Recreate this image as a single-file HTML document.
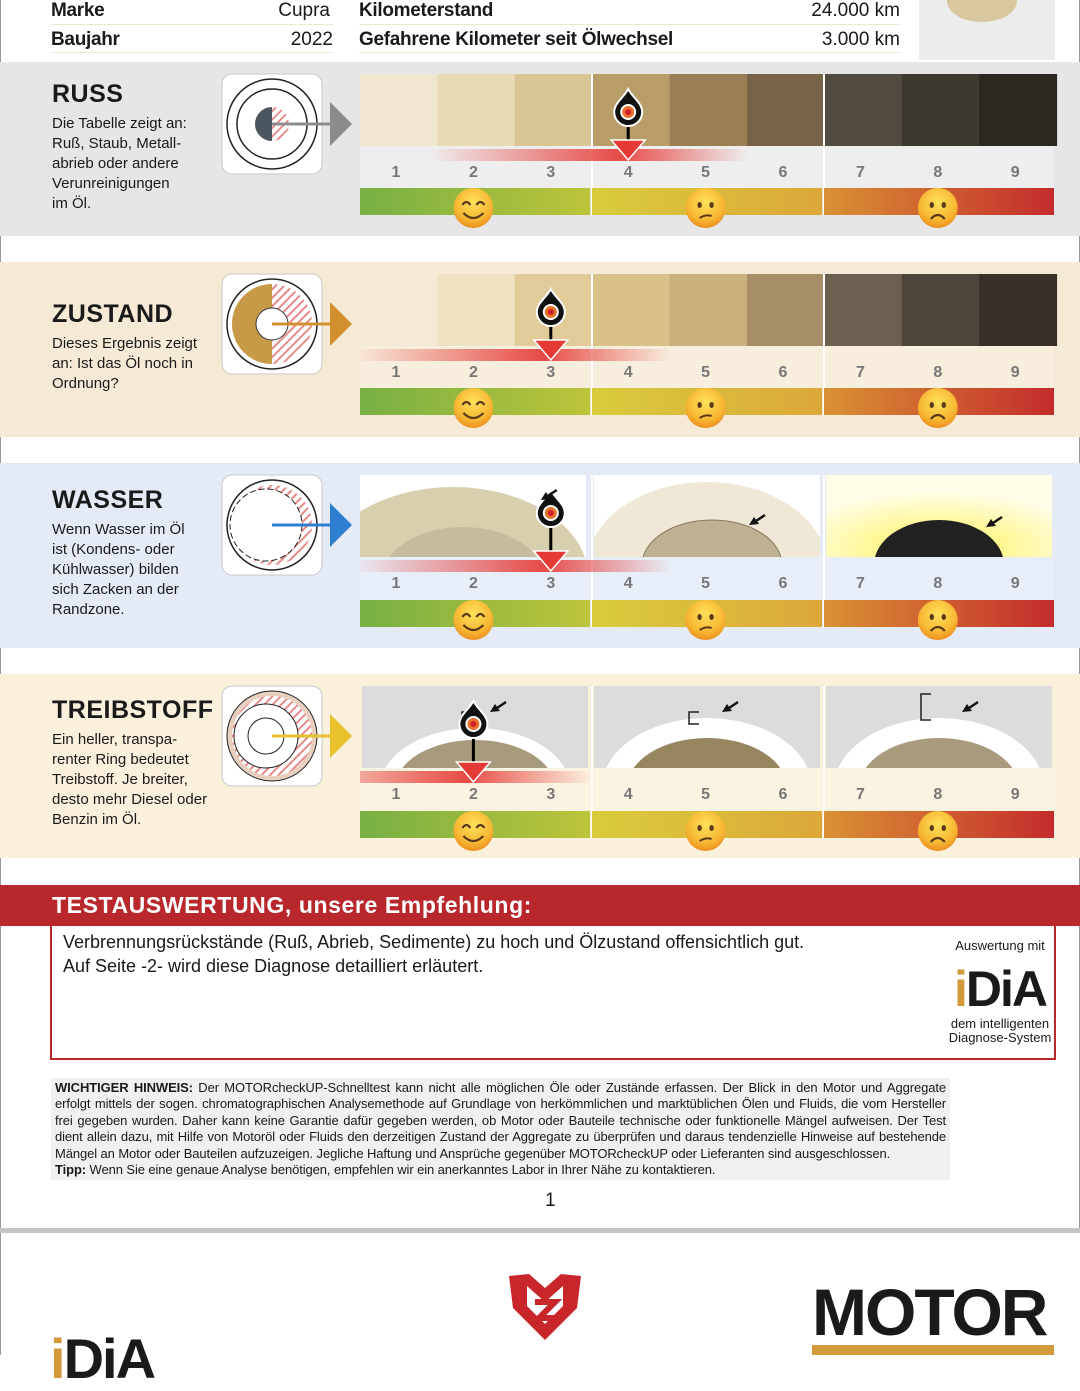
<!DOCTYPE html>
<html><head><meta charset="utf-8">
<style>
body{margin:0;width:1080px;height:1355px;position:relative;background:#fff;font-family:"Liberation Sans",sans-serif;overflow:hidden;color:#1a1a1a}
.a{position:absolute}
.hd{font-size:19px;font-weight:bold;letter-spacing:-0.3px}
.hv{font-size:19px}
.ttl{font-size:25px;font-weight:bold;letter-spacing:0.5px}
.desc{font-size:15px;line-height:20px}
</style></head><body>
<div class="a" style="left:0;top:0;width:1px;height:1355px;background:#999"></div>
<div class="a" style="right:0;top:0;width:1px;height:1230px;background:#999"></div>
<!-- header -->
<div class="a hd" style="left:51px;top:0">Marke</div>
<div class="a hv" style="left:240px;width:90px;text-align:right;top:0">Cupra</div>
<div class="a hd" style="left:51px;top:29px">Baujahr</div>
<div class="a hv" style="left:240px;width:93px;text-align:right;top:29px">2022</div>
<div class="a hd" style="left:359px;top:0">Kilometerstand</div>
<div class="a hv" style="left:760px;width:140px;text-align:right;top:0">24.000 km</div>
<div class="a hd" style="left:359px;top:29px">Gefahrene Kilometer seit Ölwechsel</div>
<div class="a hv" style="left:760px;width:140px;text-align:right;top:29px">3.000 km</div>
<div class="a" style="left:51px;top:24px;width:282px;height:1px;background:#eee6d0"></div>
<div class="a" style="left:51px;top:52px;width:282px;height:1px;background:#eee6d0"></div>
<div class="a" style="left:359px;top:24px;width:541px;height:1px;background:#eee6d0"></div>
<div class="a" style="left:359px;top:52px;width:541px;height:1px;background:#eee6d0"></div>
<div class="a" style="left:919px;top:0;width:136px;height:60px;background:#ececec"><div class="a" style="left:28px;top:-20px;width:70px;height:42px;border-radius:50%;background:#d8c8a0"></div></div>

<svg id="chart" class="a" style="left:0;top:0" width="1080" height="870"></svg>

<!-- section text -->
<div class="a ttl" style="left:52px;top:80px">RUSS</div>
<div class="a desc" style="left:52px;top:114px">Die Tabelle zeigt an:<br>Ruß, Staub, Metall-<br>abrieb oder andere<br>Verunreinigungen<br>im Öl.</div>
<div class="a ttl" style="left:52px;top:300px">ZUSTAND</div>
<div class="a desc" style="left:52px;top:334px">Dieses Ergebnis zeigt<br>an: Ist das Öl noch in<br>Ordnung?</div>
<div class="a ttl" style="left:52px;top:486px">WASSER</div>
<div class="a desc" style="left:52px;top:520px">Wenn Wasser im Öl<br>ist (Kondens- oder<br>Kühlwasser) bilden<br>sich Zacken an der<br>Randzone.</div>
<div class="a ttl" style="left:52px;top:696px">TREIBSTOFF</div>
<div class="a desc" style="left:52px;top:730px">Ein heller, transpa-<br>renter Ring bedeutet<br>Treibstoff. Je breiter,<br>desto mehr Diesel oder<br>Benzin im Öl.</div>

<!-- result -->
<div class="a" style="left:0;top:885px;width:1080px;height:41px;background:#b8272b;color:#fff;font-size:23px;font-weight:bold;letter-spacing:0.6px;line-height:41px"><span style="margin-left:52px">TESTAUSWERTUNG, unsere Empfehlung:</span></div>
<div class="a" style="left:50px;top:926px;width:1002px;height:132px;border:2px solid #b8272b;border-top:none"></div>
<div class="a" style="left:63px;top:930px;font-size:18px;line-height:24px">Verbrennungsrückstände (Ruß, Abrieb, Sedimente) zu hoch und Ölzustand offensichtlich gut.<br>Auf Seite -2- wird diese Diagnose detailliert erläutert.</div>
<div class="a" style="left:945px;top:938px;width:110px;text-align:center">
 <div style="font-size:13px">Auswertung mit</div>
 <div style="font-size:50px;font-weight:bold;line-height:56px;margin-top:8px;letter-spacing:-2px"><span style="color:#d29a3a">i</span>DiA</div>
 <div style="font-size:13px;line-height:14px">dem intelligenten<br>Diagnose-System</div>
</div>
<div class="a" style="left:51px;top:1078px;width:891px;padding:2px 4px;background:#f0f0f2;font-family:'Liberation Sans Narrow','Liberation Sans',sans-serif;font-size:13px;line-height:16.4px;text-align:justify;letter-spacing:-0.1px"><b>WICHTIGER HINWEIS:</b> Der MOTORcheckUP-Schnelltest kann nicht alle möglichen Öle oder Zustände erfassen. Der Blick in den Motor und Aggregate erfolgt mittels der sogen. chromatographischen Analysemethode auf Grundlage von herkömmlichen und marktüblichen Ölen und Fluids, die vom Hersteller frei gegeben wurden. Daher kann keine Garantie dafür gegeben werden, ob Motor oder Bauteile technische oder funktionelle Mängel aufweisen. Der Test dient allein dazu, mit Hilfe von Motoröl oder Fluids den derzeitigen Zustand der Aggregate zu überprüfen und daraus tendenzielle Hinweise auf bestehende Mängel an Motor oder Bauteilen aufzuzeigen. Jegliche Haftung und Ansprüche gegenüber MOTORcheckUP oder Lieferanten sind ausgeschlossen.<br><b>Tipp:</b> Wenn Sie eine genaue Analyse benötigen, empfehlen wir ein anerkanntes Labor in Ihrer Nähe zu kontaktieren.</div>
<div class="a" style="left:545px;top:1190px;font-size:19px">1</div>
<div class="a" style="left:0;top:1228px;width:1080px;height:5px;background:#c4c4c4"></div>
<!-- footer logos -->
<div class="a" style="left:50px;top:1326px;font-size:56px;font-weight:bold;letter-spacing:-2px"><span style="color:#d29a3a">i</span>DiA</div>
<svg class="a" style="left:505px;top:1272px" width="80" height="70"><path d="M4 4 L24 2 L40 16 L56 2 L76 4 L72 36 L40 68 L8 36 Z" fill="#c8262b"/><path d="M22 14 L40 30 L58 14 L58 34 L40 52 L22 34 Z" fill="#fff"/><path d="M30 30 L50 30 L34 46 L52 46" stroke="#c8262b" stroke-width="6" fill="none"/></svg>
<div class="a" style="left:812px;top:1272px;font-size:66px;font-weight:bold;letter-spacing:-2px;line-height:80px">MOTOR</div>
<div class="a" style="left:812px;top:1345px;width:242px;height:10px;background:#d29a3a"></div>

<script>
const NS="http://www.w3.org/2000/svg";
const svg=document.getElementById('chart');
const sectionNames=["russ","zustand","wasser","treibstoff"];
const resultValues=[4,3,3,2];
const scaleLabels=["1","2","3","4","5","6","7","8","9"];
const russColors=["#efe7cf","#e7dab4","#d9c695","#b99d68","#9a7f55","#786448","#514b42","#3e3930","#2b2721"];
const zustandColors=["#f3ebd5","#efe2c2","#e1cb99","#d9c18a","#c9b07c","#a68f68","#6c6050","#4d4539","#393129"];
const sections=[
 {top:62,h:174,bg:"#e6e6e7",row:"#eeeeef",sw:74,swh:72,ac:"#8c8c8c",icon:0},
 {top:262,h:175,bg:"#f6ead6",row:"#f7eedd",sw:274,swh:72,ac:"#d1902e",icon:1},
 {top:463,h:185,bg:"#e4ebf6",row:"#e8eef8",sw:475,swh:82,ac:"#2f7fd0",icon:2},
 {top:674,h:184,bg:"#faf0db",row:"#fbf3e2",sw:686,swh:82,ac:"#e8c22c",icon:3}];
function el(t,a,p){const e=document.createElementNS(NS,t);for(const k in a)e.setAttribute(k,a[k]);(p||svg).appendChild(e);return e;}
const defs=el('defs',{});
defs.innerHTML=`<linearGradient id="g0"><stop offset="0" stop-color="#78b044"/><stop offset="1" stop-color="#bcc43a"/></linearGradient>
<linearGradient id="g1"><stop offset="0" stop-color="#d9cc3c"/><stop offset="1" stop-color="#dca73a"/></linearGradient>
<linearGradient id="g2"><stop offset="0" stop-color="#d99134"/><stop offset="1" stop-color="#c42c2c"/></linearGradient>
<linearGradient id="band"><stop offset="0" stop-color="#e53935" stop-opacity="0"/><stop offset="0.6" stop-color="#e53935" stop-opacity="0.9"/><stop offset="1" stop-color="#e53935" stop-opacity="0"/></linearGradient>
<radialGradient id="face" cx="0.5" cy="0.35" r="0.65"><stop offset="0" stop-color="#ffe15a"/><stop offset="0.7" stop-color="#f7b733"/><stop offset="1" stop-color="#ec8f1f"/></radialGradient>
<radialGradient id="yel" cx="0.5" cy="0.9" r="0.7"><stop offset="0" stop-color="#fff35a"/><stop offset="1" stop-color="#fffde8"/></radialGradient>
<pattern id="hatch" width="6" height="6" patternTransform="rotate(45)" patternUnits="userSpaceOnUse"><rect width="6" height="6" fill="#fff"/><rect width="2" height="6" fill="#e88a8a"/></pattern>
<clipPath id="panelclip"><rect x="360" y="0" width="694" height="870"/></clipPath>`;
const X0=360, GW=232, CW=77.4;
function xv(v){return 396+(v-1)*CW;}
function face(cx,cy,type,p){
 const g=el('g',{},p);
 el('circle',{cx:cx,cy:cy,r:20,fill:'url(#face)'},g);
 if(type==0){el('path',{d:`M${cx-11} ${cy-3} q4 -6 8 0 M${cx+3} ${cy-3} q4 -6 8 0`,stroke:'#5a3a1a','stroke-width':2.2,fill:'none'},g);
  el('path',{d:`M${cx-10} ${cy+5} q10 10 20 0`,stroke:'#5a3a1a','stroke-width':2.2,fill:'none'},g);}
 else{el('ellipse',{cx:cx-6,cy:cy-3,rx:2.2,ry:3,fill:'#5a3a1a'},g);el('ellipse',{cx:cx+6,cy:cy-3,rx:2.2,ry:3,fill:'#5a3a1a'},g);
  if(type==1)el('path',{d:`M${cx-6} ${cy+10} q6 -4 12 -2`,stroke:'#5a3a1a','stroke-width':2,fill:'none'},g);
  else el('path',{d:`M${cx-7} ${cy+11} q7 -8 14 0`,stroke:'#5a3a1a','stroke-width':2.2,fill:'none'},g);}
}
function drop(cx,cy,p){
 el('path',{d:`M${cx} ${cy-20} C${cx+4} ${cy-12} ${cx+14} ${cy-6} ${cx+14} ${cy+3} A14 14 0 1 1 ${cx-14} ${cy+3} C${cx-14} ${cy-6} ${cx-4} ${cy-12} ${cx} ${cy-20}Z`,fill:'#111',stroke:'#fff','stroke-width':2},p);
 el('circle',{cx:cx,cy:cy+3,r:8,fill:'#fff'},p);el('circle',{cx:cx,cy:cy+3,r:6,fill:'#e8732c'},p);el('circle',{cx:cx,cy:cy+3,r:3,fill:'#d0202a'},p);
}
function arrowSmall(x,y,p){el('path',{d:`M${x+16} ${y-10} L${x+4} ${y-2}`,stroke:'#111','stroke-width':2.5},p);el('path',{d:`M${x} ${y} l10 -1 l-5 -7z`,fill:'#111'},p);}
sections.forEach((s,si)=>{
 const g=el('g',{});
 
 
 el('rect',{x:0,y:s.top,width:1080,height:s.h,fill:s.bg},g);
 const ib=el('g',{},g);
 el('rect',{x:222,y:s.sw,width:100,height:100,rx:10,fill:'#fff',stroke:'#c8c8c8'},ib);
 const cx=272,cy=s.sw+50;
 if(s.icon==0){el('circle',{cx,cy,r:45,fill:'none',stroke:'#222','stroke-width':1.5},ib);el('circle',{cx,cy,r:35,fill:'none',stroke:'#222','stroke-width':1.5},ib);
  el('circle',{cx,cy,r:17,fill:'url(#hatch)'},ib);el('path',{d:`M${cx} ${cy-17} A17 17 0 0 0 ${cx} ${cy+17}Z`,fill:'#4a5560'},ib);}
 else if(s.icon==1){el('circle',{cx,cy,r:45,fill:'none',stroke:'#222','stroke-width':1.5},ib);el('circle',{cx,cy,r:40,fill:'url(#hatch)'},ib);
  el('path',{d:`M${cx} ${cy-40} A40 40 0 0 0 ${cx} ${cy+40}Z`,fill:'#c79a48'},ib);el('circle',{cx,cy,r:16,fill:'#fff',stroke:'#333'},ib);}
 else if(s.icon==2){el('circle',{cx,cy,r:45,fill:'none',stroke:'#222','stroke-width':1.5},ib);el('circle',{cx,cy,r:40,fill:'url(#hatch)'},ib);
  el('circle',{cx:cx-6,cy,r:36,fill:'#fff',stroke:'#222','stroke-dasharray':'6 3'},ib);}
 else {el('circle',{cx,cy,r:45,fill:'#e8cfc0',stroke:'#222','stroke-width':1},ib);el('circle',{cx,cy,r:40,fill:'url(#hatch)'},ib);el('circle',{cx:cx-6,cy,r:32,fill:'#fff',stroke:'#222'},ib);el('circle',{cx:cx-6,cy,r:18,fill:'#fff',stroke:'#222'},ib);}
 el('path',{d:`M${cx} ${cy} H332`,stroke:s.ac,'stroke-width':3},ib);
 el('path',{d:`M330 ${cy-22} L352 ${cy} L330 ${cy+22}Z`,fill:s.ac},ib);
 if(si<2){const cols=si==0?russColors:zustandColors;
  cols.forEach((c,i)=>{const r=el('rect',{x:X0+i*CW,y:s.sw,width:CW+0.5,height:s.swh,fill:c},g);
   });}
 else{
  for(let k=0;k<3;k++){const gx=X0+k*GW+(si==2&&k==0?0:2),gw=226;
   const cid='c'+si+k;const cp=el('clipPath',{id:cid},defs);el('rect',{x:gx,y:s.sw,width:gw,height:s.swh},cp);
   const ig=el('g',{'clip-path':`url(#${cid})`},g);
   const bx=gx+gw/2, by=s.sw+s.swh;
   if(si==2){
    el('rect',{x:gx,y:s.sw,width:gw,height:s.swh,fill:k==2?'url(#yel)':'#fff'},ig);
    if(k==0){el('ellipse',{cx:bx-20,cy:by+20,rx:135,ry:90,fill:'#d8cfae'},ig);el('ellipse',{cx:bx-10,cy:by+20,rx:80,ry:50,fill:'#c4bc9e'},ig);}
    if(k==1){el('ellipse',{cx:bx,cy:by+10,rx:120,ry:85,fill:'#efe8d6'},ig);el('ellipse',{cx:bx+5,cy:by+8,rx:70,ry:45,fill:'#bfb194',stroke:'#8a7a5a'},ig);arrowSmall(gx+155,s.sw+50,ig);}
    if(k==2){el('ellipse',{cx:bx,cy:by+8,rx:65,ry:45,fill:'#222'},ig);arrowSmall(gx+160,s.sw+52,ig);}
   }else{
    el('rect',{x:gx,y:s.sw,width:gw,height:s.swh,fill:'#dcdcdc'},ig);
    el('ellipse',{cx:bx,cy:by+20,rx:k==0?95:105,ry:k==0?60:70,fill:'#fff'},ig);
    el('ellipse',{cx:bx,cy:by+20,rx:80,ry:k==0?48:50,fill:k==1?'#958660':'#a89a7c'},ig);
    el('path',{d:`M${gx+(k==0?110:105)} ${s.sw+(k==2?8:26)} h-10 v${k==2?26:12} h10`,stroke:'#222','stroke-width':1.5,fill:'none'},ig);
    arrowSmall(gx+128+(k==2?8:0),s.sw+26,ig);
   }}
 }
 const nt=s.sw+s.swh, nh=si<2?42:43;
 el('rect',{x:X0,y:nt,width:694,height:nh,fill:s.row},g);
 [X0+GW-1,X0+2*GW-1].forEach(x=>el('rect',{x:x,y:s.sw,width:2,height:nh+s.swh+27,fill:'#fff'},g));
 scaleLabels.forEach((l,i)=>{const t=el('text',{x:xv(i+1),y:nt+31,'text-anchor':'middle','font-size':16,'font-weight':'bold',fill:'#777'},g);t.textContent=l;
  });
 for(let k=0;k<3;k++){const r=el('rect',{x:X0+k*GW,y:nt+nh,width:GW-2,height:27,fill:`url(#g${k})`},g);
  }
 for(let k=0;k<3;k++)face(xv(2+3*k),nt+nh+20,k,g);
 const v=resultValues[si], mx=xv(v);
 const mk=el('g',{},g);
 
 
 el('rect',{x:mx-200,y:nt+3,width:320,height:12,fill:'url(#band)','clip-path':'url(#panelclip)'},mk);
 el('rect',{x:mx-1.5,y:s.sw+45,width:3,height:nt-s.sw-45},mk);
 el('path',{d:`M${mx-17} ${nt-6} L${mx+17} ${nt-6} L${mx} ${nt+14}Z`,fill:'#e53935',stroke:'#fff','stroke-width':1.5},mk);
 drop(mx,s.sw+35,mk);
 if(si==2)arrowSmall(mx-10,s.sw+25,mk);
});
</script>
</body></html>
